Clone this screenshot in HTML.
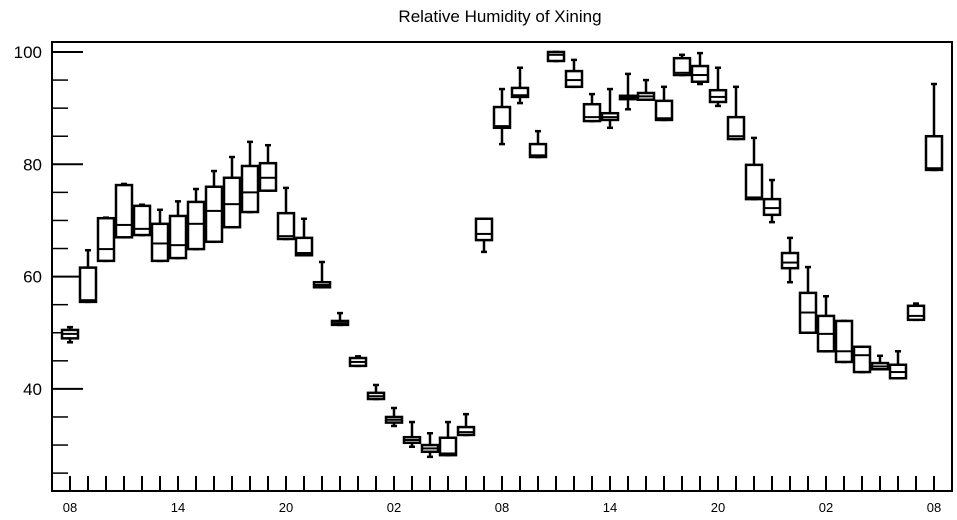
<!DOCTYPE html>
<html><head><meta charset="utf-8"><style>
html,body{margin:0;padding:0;background:#fff;}
svg{display:block;font-family:"Liberation Sans",sans-serif;}
</style></head><body>
<svg id="chart" width="957" height="520" viewBox="0 0 957 520">
<text x="500" y="22" text-anchor="middle" font-size="17">Relative Humidity of Xining</text>
<rect x="52" y="42" width="900" height="449" fill="none" stroke="#000" stroke-width="2"/>
<g id="yaxis"></g>
<g id="xaxis"></g>
<g id="boxes"></g>
</svg>
<script>
const q3=[50.5,61.6,70.4,76.3,72.6,69.4,70.8,73.3,76,77.6,79.7,80.2,71.3,66.9,59,52.1,45.5,39.3,35,31.4,30,31.3,33.2,70.3,90.2,93.6,83.6,100,96.6,90.7,89.1,92.2,92.7,91.3,98.9,97.5,93.2,88.4,79.9,73.8,64.2,57.1,53,52.1,47.5,44.6,44.3,54.8,85];
const q1=[49,55.5,62.8,67,67.4,62.8,63.3,64.9,66.2,68.8,71.5,75.3,66.7,63.8,58.1,51.4,44.1,38.2,34,30.4,28.8,28.2,31.8,66.5,86.5,92,81.3,98.4,93.8,87.7,87.9,91.6,91.5,87.9,95.9,94.7,91.1,84.5,73.8,71,61.5,50,46.7,44.8,43,43.5,41.9,52.3,79];
const med=[49.8,55.8,64.9,69.2,68.5,65.9,65.6,69.4,71.7,72.9,75,77.6,67.2,64.2,58.5,51.7,44.8,38.7,34.5,30.9,29.4,28.5,32.3,67.6,86.8,92.3,81.6,99.5,95,88.4,88.4,91.9,92.1,88.2,96.3,95.9,92,85,74.1,72.2,62.5,53.6,49.8,46.7,46,44,43,53,79.3];
const whiHi=[51,64.7,70.5,76.5,72.8,71.9,73.4,75.6,78.8,81.3,84,83.4,75.8,70.3,62.6,53.5,45.8,40.7,36.6,34.1,32.1,34.1,35.5,70.3,93.4,97.2,85.9,100,98.6,92.5,93.4,96.1,95,93.8,99.5,99.8,97.2,93.8,84.7,77.2,66.9,61.7,56.5,52.1,47.5,45.9,46.7,55.2,94.3];
const whiLo=[48.3,55.5,62.8,67,67.4,62.8,63.3,64.9,66.2,68.8,71.5,75.3,66.7,63.8,58.1,51.4,44.1,38.2,33.4,29.7,27.9,28.2,31.8,64.4,83.6,90.9,81.3,98.4,93.8,87.7,86.5,89.8,91.5,87.9,95.9,94.3,90.4,84.5,73.8,69.7,59,50,46.7,44.8,43,43.5,41.9,52.3,79];
const xLabels=["08","14","20","02","08","14","20","02","08"];
const yTicks=[40,60,80,100];
const NS="http://www.w3.org/2000/svg";
const X0=52,X1=952,Yb=491;
function xs(i){return 70+i*18;}
function ys(v){return 52+(100-v)*5.615;}
function mk(tag,attrs,parent){const e=document.createElementNS(NS,tag);for(const k in attrs)e.setAttribute(k,attrs[k]);parent.appendChild(e);return e;}
const ya=document.getElementById('yaxis'),xa=document.getElementById('xaxis'),bx=document.getElementById('boxes');
for(let v=25;v<=100;v+=5){
  const major=yTicks.includes(v);
  const l=mk('line',{x1:X0,x2:X0+(major?31:16),y1:ys(v),y2:ys(v),stroke:'#000','stroke-width':major?2:1.5},ya);
  
  
}
yTicks.forEach(v=>{
  const t=mk('text',{x:42,y:ys(v)+6,'text-anchor':'end','font-size':17},ya);
  
  
  t.textContent=v;
});
for(let i=0;i<q3.length;i++){
  const l=mk('line',{x1:xs(i),x2:xs(i),y1:Yb,y2:Yb-15,stroke:'#000','stroke-width':2},xa);
  
  
}
xLabels.forEach((s,k)=>{
  const t=mk('text',{x:xs(k*6),y:512,'text-anchor':'middle','font-size':13},xa);
  
  
  t.textContent=s;
});
for(let i=0;i<q3.length;i++){
  const g=mk('g',{},bx);
  
  
  const x=xs(i),top=ys(q3[i]),bot=ys(q1[i]);
  mk('line',{x1:x,x2:x,y1:ys(whiHi[i]),y2:top,stroke:'#000','stroke-width':2.5},g);
  mk('line',{x1:x-3,x2:x+3,y1:ys(whiHi[i]),y2:ys(whiHi[i]),stroke:'#000','stroke-width':2.5},g);
  mk('line',{x1:x,x2:x,y1:bot,y2:ys(whiLo[i]),stroke:'#000','stroke-width':2.5},g);
  mk('line',{x1:x-3,x2:x+3,y1:ys(whiLo[i]),y2:ys(whiLo[i]),stroke:'#000','stroke-width':2.5},g);
  mk('rect',{x:x-8,y:top,width:16,height:Math.max(bot-top,2),fill:'#fff',stroke:'#000','stroke-width':2.5},g);
  mk('line',{x1:x-8,x2:x+8,y1:ys(med[i]),y2:ys(med[i]),stroke:'#000','stroke-width':2},g);
}
</script>
</body></html>
